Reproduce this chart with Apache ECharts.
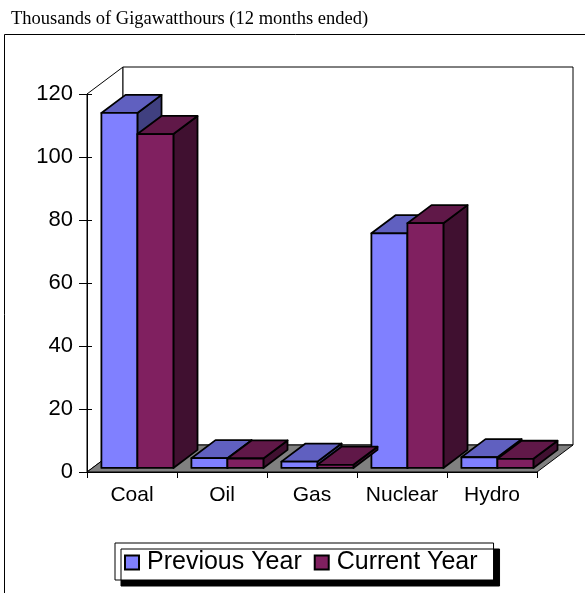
<!DOCTYPE html>
<html>
<head>
<meta charset="utf-8">
<script src="https://cdn.jsdelivr.net/npm/echarts@6/dist/echarts.min.js"></script>
<style>html,body{margin:0;padding:0;background:#fff}#c{width:585px;height:593px}</style>
</head>
<body>
<div id="c"></div>
<script>
var categories = ['Coal', 'Oil', 'Gas', 'Nuclear', 'Hydro'];
var previousYear = [112.7, 3.1, 2.0, 74.5, 3.4];
var currentYear = [106.0, 3.0, 1.0, 77.7, 2.9];
var seriesNames = ['Previous Year', 'Current Year'];
var yTicks = {min: 0, max: 120, interval: 20};

var DX = 36, DY = 27;            // full depth offset of the 3D box
var FRONT = 0.15, BACK = 0.82;   // bar depth range as fraction of depth
var colors = [
  {front: '#8080FF', top: '#6060C0', side: '#404080'},
  {front: '#802060', top: '#601848', side: '#401030'}
];

var chart = echarts.init(document.getElementById('c'), null, {renderer: 'canvas'});

function frameItem(params, api) {
  var cs = params.coordSys;
  var x0 = cs.x, x1 = cs.x + cs.width, yT = cs.y, yB = cs.y + cs.height;
  var st = {stroke: '#000', lineWidth: 1};
  return {
    type: 'group',
    children: [
      {type: 'polygon', shape: {points: [[x0, yB], [x0, yT], [x0 + DX, yT - DY], [x0 + DX, yB - DY]]},
        style: Object.assign({fill: '#fff'}, st)},
      {type: 'rect', shape: {x: x0 + DX, y: yT - DY, width: cs.width, height: cs.height},
        style: Object.assign({fill: '#fff'}, st)},
      {type: 'polygon', shape: {points: [[x0, yB], [x1, yB], [x1 + DX, yB - DY], [x0 + DX, yB - DY]]},
        style: Object.assign({fill: '#808080'}, st)}
    ]
  };
}

function makeBarRenderer(sIdx) {
  return function (params, api) {
    var idx = api.value(0), val = api.value(1);
    var top = api.coord([idx, val]);
    var base = api.coord([idx, 0]);
    var bandW = api.size([1, 0])[0];
    var barW = bandW * 0.4;
    var fx = DX * FRONT, fy = DY * FRONT;
    var ddx = DX * (BACK - FRONT), ddy = DY * (BACK - FRONT);
    var xl = (sIdx === 0 ? base[0] - barW : base[0]) + fx;
    var xr = xl + barW;
    var yt = top[1] - fy, yb = base[1] - fy;
    var c = colors[sIdx];
    var st = {stroke: '#000', lineWidth: 1.8, lineJoin: 'round'};
    return {
      type: 'group',
      children: [
        {type: 'polygon', shape: {points: [[xr, yt], [xr + ddx, yt - ddy], [xr + ddx, yb - ddy], [xr, yb]]},
          style: Object.assign({fill: c.side}, st)},
        {type: 'polygon', shape: {points: [[xl, yt], [xr, yt], [xr + ddx, yt - ddy], [xl + ddx, yt - ddy]]},
          style: Object.assign({fill: c.top}, st)},
        {type: 'rect', shape: {x: xl, y: yt, width: barW, height: yb - yt},
          style: Object.assign({fill: c.front}, st)}
      ]
    };
  };
}

function pairs(arr) { return arr.map(function (v, i) { return [i, v]; }); }

var option = {
  animation: false,
  backgroundColor: '#fff',
  title: {
    text: 'Thousands of Gigawatthours (12 months ended)',
    left: 6, top: 5,
    textStyle: {fontFamily: 'Liberation Serif', fontSize: 18.5, fontWeight: 'normal', color: '#000'}
  },
  graphic: [
    {type: 'rect', shape: {x: 4.5, y: 34.5, width: 600, height: 600},
      style: {fill: null, stroke: '#000', lineWidth: 1}, z: -1, silent: true}
  ],
  legend: {
    data: seriesNames,
    left: 115, top: 543,
    padding: [7, 16, 5, 9],
    itemGap: 12,
    itemWidth: 14, itemHeight: 14,
    icon: 'rect',
    backgroundColor: '#fff',
    borderColor: '#000', borderWidth: 1,
    shadowColor: '#000', shadowBlur: 0, shadowOffsetX: 6, shadowOffsetY: 6,
    textStyle: {fontFamily: 'Liberation Sans', fontSize: 25, color: '#000', padding: [0, 0, 0, 3]},
    selectedMode: false
  },
  grid: {left: 87, top: 94, right: 48, bottom: 121},
  xAxis: {
    type: 'category', data: categories, boundaryGap: true, z: 10,
    axisLine: {show: true, lineStyle: {color: '#000', width: 1}},
    axisTick: {show: true, interval: 0, length: 6, lineStyle: {color: '#000'}},
    axisLabel: {interval: 0, fontFamily: 'Liberation Sans', fontSize: 21, color: '#000', margin: 13},
    splitLine: {show: false}
  },
  yAxis: [
    {
      type: 'value', min: yTicks.min, max: yTicks.max, interval: yTicks.interval, z: 10,
      axisLine: {show: true, lineStyle: {color: '#000', width: 1}},
      axisTick: {show: true, length: 8, lineStyle: {color: '#000'}},
      axisLabel: {fontFamily: 'Liberation Sans', fontSize: 22, color: '#000', margin: 14},
      splitLine: {show: false}
    },
    {
      type: 'value', min: yTicks.min, max: yTicks.max, interval: yTicks.interval, position: 'left', z: 10,
      axisLine: {show: false},
      axisTick: {show: true, inside: true, length: 5, lineStyle: {color: '#000'}},
      axisLabel: {show: false},
      splitLine: {show: false}
    }
  ],
  series: [
    {type: 'custom', name: 'frame', renderItem: frameItem, data: [[0, 0]], z: 1, silent: true},
    {type: 'custom', name: seriesNames[0], renderItem: makeBarRenderer(0), data: pairs(previousYear),
      itemStyle: {color: colors[0].front, borderColor: '#000', borderWidth: 1}, z: 3},
    {type: 'custom', name: seriesNames[1], renderItem: makeBarRenderer(1), data: pairs(currentYear),
      itemStyle: {color: colors[1].front, borderColor: '#000', borderWidth: 1}, z: 3}
  ]
};
chart.setOption(option);
</script>
</body>
</html>
